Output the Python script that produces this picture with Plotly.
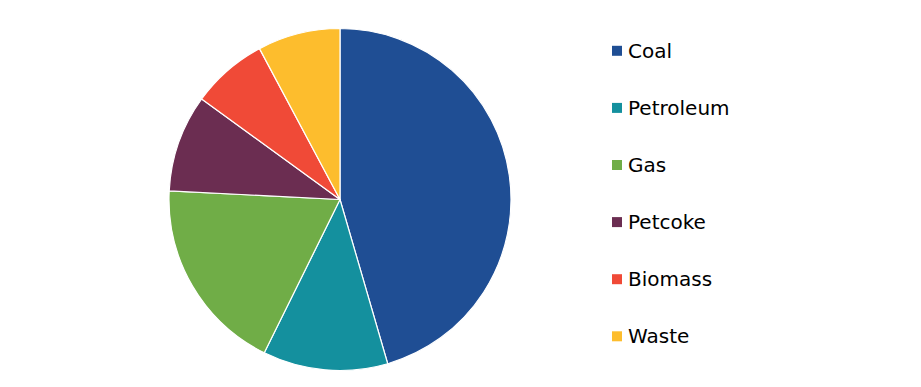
import plotly.graph_objects as go

labels = ["Coal", "Petroleum", "Gas", "Petcoke", "Biomass", "Waste"]
values = [45.5, 11.8, 18.5, 9.2, 7.2, 7.8]
colors = ["#1F4E94", "#14909E", "#70AD47", "#6B2D51", "#F04A37", "#FDBD2D"]

W, H = 921, 387

fig = go.Figure()
fig.add_trace(go.Pie(
    labels=labels, values=values, sort=False, direction="clockwise", rotation=0,
    marker=dict(colors=colors, line=dict(color="white", width=1.2)),
    textinfo="none", showlegend=False,
    domain=dict(x=[169 / W, 511 / W], y=[16.5 / H, 358.5 / H]),
))

# manual legend
shapes = []
annotations = []
for i, (lab, col) in enumerate(zip(labels, colors)):
    yc = 50.8 + 57.1 * i
    shapes.append(dict(type="rect", xref="paper", yref="paper",
                       x0=612 / W, x1=622 / W,
                       y0=(H - yc - 5) / H, y1=(H - yc + 5) / H,
                       fillcolor=col, line=dict(width=0)))
    annotations.append(dict(xref="paper", yref="paper", x=626 / W, y=(H - yc) / H,
                            text=lab, showarrow=False, xanchor="left", yanchor="middle",
                            font=dict(family="DejaVu Sans", size=20, color="#000000")))

fig.update_layout(
    width=W, height=H, margin=dict(l=0, r=0, t=0, b=0),
    paper_bgcolor="white", plot_bgcolor="white",
    shapes=shapes, annotations=annotations,
)
fig.write_html("out.html")
